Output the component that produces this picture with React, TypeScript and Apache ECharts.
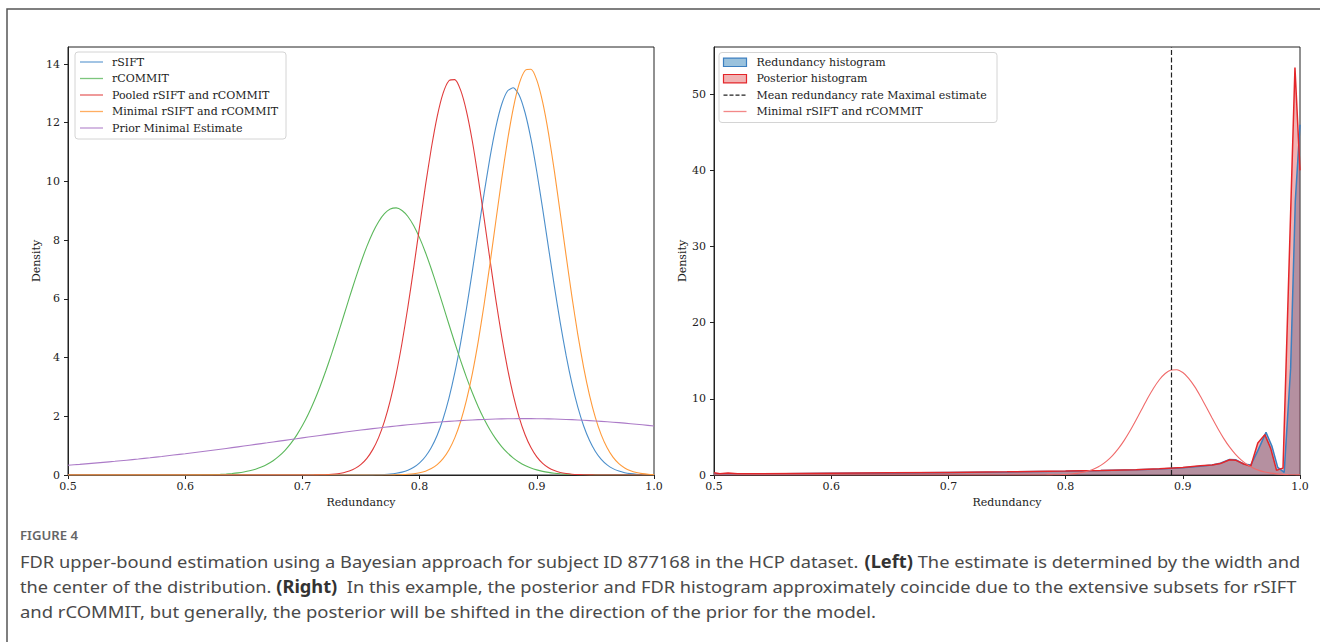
import React, { useEffect, useRef } from 'react';
import * as echarts from 'echarts';

// ---------- LEFT PANEL DATA ----------
const xFine = [
  0.5, 0.55,
  0.600, 0.605, 0.610, 0.615, 0.620, 0.625, 0.630, 0.635, 0.640, 0.645,
  0.650, 0.655, 0.660, 0.665, 0.670, 0.675, 0.680, 0.685, 0.690, 0.695,
  0.700, 0.705, 0.710, 0.715, 0.720, 0.725, 0.730, 0.735, 0.740, 0.745,
  0.750, 0.755, 0.760, 0.765, 0.770, 0.775, 0.780, 0.785, 0.790, 0.795,
  0.800, 0.805, 0.810, 0.815, 0.820, 0.825, 0.830, 0.835, 0.840, 0.845,
  0.850, 0.855, 0.860, 0.865, 0.870, 0.875, 0.880, 0.885, 0.890, 0.895,
  0.900, 0.905, 0.910, 0.915, 0.920, 0.925, 0.930, 0.935, 0.940, 0.945,
  0.950, 0.955, 0.960, 0.965, 0.970, 0.975, 0.980, 0.985, 0.990, 0.995,
  1.000,
];

const rsiftY = [
  0, 0,
  0, 0, 0, 0, 0, 0, 0, 0, 0, 0,
  0, 0, 0, 0, 0, 0, 0, 0, 0, 0,
  0, 0, 0, 0, 0, 0, 0, 0, 0, 0,
  0, 0, 0.005, 0.010, 0.018, 0.032, 0.057, 0.097, 0.162, 0.262,
  0.412, 0.630, 0.937, 1.356, 1.909, 2.612, 3.477, 4.503, 5.671, 6.945,
  8.274, 9.585, 10.80, 11.84, 12.62, 13.08, 13.19, 12.94, 12.34, 11.45,
  10.33, 9.067, 7.739, 6.426, 5.188, 4.075, 3.112, 2.313, 1.671, 1.174,
  0.802, 0.533, 0.345, 0.217, 0.133, 0.079, 0.046, 0.026, 0.014, 0.008,
  0.004,
];

const rcommitY = [
  0, 0,
  0.002, 0.003, 0.004, 0.006, 0.010, 0.015, 0.022, 0.033, 0.049, 0.071,
  0.101, 0.142, 0.198, 0.271, 0.366, 0.488, 0.643, 0.834, 1.068, 1.350,
  1.683, 2.069, 2.512, 3.007, 3.550, 4.136, 4.754, 5.392, 6.032, 6.657,
  7.249, 7.787, 8.254, 8.630, 8.903, 9.061, 9.100, 9.012, 8.807, 8.491,
  8.077, 7.580, 7.017, 6.410, 5.776, 5.135, 4.504, 3.898, 3.327, 2.802,
  2.328, 1.908, 1.543, 1.231, 0.969, 0.753, 0.577, 0.436, 0.325, 0.239,
  0.174, 0.124, 0.088, 0.061, 0.042, 0.029, 0.019, 0.013, 0.008, 0.005,
  0.003, 0.002, 0.001, 0, 0, 0, 0, 0, 0, 0,
  0,
];

const pooledY = [
  0, 0,
  0, 0, 0, 0, 0, 0, 0, 0, 0, 0,
  0, 0, 0, 0, 0, 0, 0, 0, 0, 0,
  0, 0.002, 0.003, 0.007, 0.013, 0.025, 0.045, 0.079, 0.135, 0.225,
  0.363, 0.568, 0.864, 1.274, 1.827, 2.541, 3.430, 4.497, 5.722, 7.066,
  8.472, 9.856, 11.13, 12.21, 13.00, 13.43, 13.47, 13.11, 12.39, 11.37,
  10.12, 8.752, 7.344, 5.982, 4.730, 3.630, 2.705, 1.957, 1.373, 0.936,
  0.619, 0.398, 0.248, 0.150, 0.088, 0.050, 0.028, 0.015, 0.008, 0.004,
  0.002, 0, 0, 0, 0, 0, 0, 0, 0, 0,
  0,
];

const minimalY = [
  0, 0,
  0, 0, 0, 0, 0, 0, 0, 0, 0, 0,
  0, 0, 0, 0, 0, 0, 0, 0, 0, 0,
  0, 0, 0, 0, 0, 0, 0, 0, 0, 0,
  0, 0, 0, 0, 0, 0, 0.006, 0.012, 0.023, 0.042,
  0.075, 0.130, 0.218, 0.354, 0.558, 0.853, 1.266, 1.823, 2.548, 3.454,
  4.544, 5.800, 7.184, 8.634, 10.07, 11.39, 12.51, 13.33, 13.78, 13.82,
  13.45, 12.70, 11.64, 10.35, 8.925, 7.471, 6.068, 4.782, 3.658, 2.713,
  1.954, 1.366, 0.926, 0.609, 0.388, 0.241, 0.145, 0.084, 0.048, 0.026,
  0.014,
];

const priorX = [
  0.50, 0.51, 0.52, 0.53, 0.54, 0.55, 0.56, 0.57, 0.58, 0.59,
  0.60, 0.61, 0.62, 0.63, 0.64, 0.65, 0.66, 0.67, 0.68, 0.69,
  0.70, 0.71, 0.72, 0.73, 0.74, 0.75, 0.76, 0.77, 0.78, 0.79,
  0.80, 0.81, 0.82, 0.83, 0.84, 0.85, 0.86, 0.87, 0.88, 0.89,
  0.90, 0.91, 0.92, 0.93, 0.94, 0.95, 0.96, 0.97, 0.98, 0.99,
  1.00,
];
const priorY = [
  0.331, 0.362, 0.395, 0.429, 0.466, 0.505, 0.545, 0.588, 0.632, 0.679,
  0.726, 0.776, 0.827, 0.879, 0.932, 0.987, 1.042, 1.097, 1.153, 1.209,
  1.265, 1.320, 1.375, 1.428, 1.480, 1.531, 1.579, 1.626, 1.669, 1.710,
  1.748, 1.783, 1.814, 1.842, 1.865, 1.885, 1.900, 1.911, 1.918, 1.920,
  1.918, 1.911, 1.900, 1.885, 1.865, 1.842, 1.814, 1.783, 1.748, 1.710,
  1.669,
];

// ---------- RIGHT PANEL DATA ----------
const redundancyX = [
  0.500, 0.505, 0.515, 0.530, 0.560, 0.600, 0.650, 0.700, 0.750, 0.800,
  0.830, 0.860, 0.880, 0.900, 0.915, 0.925, 0.932, 0.940, 0.945, 0.952,
  0.958, 0.964, 0.971, 0.976, 0.981, 0.9865, 0.992, 0.996, 1.000,
];
const redundancyY = [
  0.15, 0.12, 0.14, 0.15, 0.18, 0.22, 0.27, 0.33, 0.40, 0.50,
  0.58, 0.68, 0.78, 0.95, 1.15, 1.30, 1.55, 2.05, 2.00, 1.45,
  1.30, 3.20, 5.60, 3.80, 1.00, 0.35, 14.0, 36.0, 46.0,
];
const posteriorX = [
  0.500, 0.505, 0.512, 0.520, 0.540, 0.600, 0.650, 0.700, 0.750, 0.800,
  0.830, 0.860, 0.880, 0.900, 0.915, 0.925, 0.932, 0.940, 0.945, 0.952,
  0.958, 0.964, 0.970, 0.975, 0.980, 0.983, 0.9855, 0.9957, 1.000,
];
const posteriorY = [
  0.30, 0.15, 0.25, 0.15, 0.17, 0.23, 0.28, 0.34, 0.42, 0.52,
  0.60, 0.70, 0.82, 1.00, 1.20, 1.30, 1.50, 2.00, 1.95, 1.45,
  1.15, 4.20, 5.30, 3.50, 0.60, 0.80, 0.90, 53.5, 40.0,
];
const meanRedundancy = 0.893;

// ---------- TICKS / LABELS ----------
const leftYTicks = [0, 2, 4, 6, 8, 10, 12, 14];
const rightYTicks = [0, 10, 20, 30, 40, 50];
const leftLegendNames = ['rSIFT', 'rCOMMIT', 'Pooled rSIFT and rCOMMIT', 'Minimal rSIFT and rCOMMIT', 'Prior Minimal Estimate'];
const rightLegendNames = ['Redundancy histogram', 'Posterior histogram', 'Mean redundancy rate Maximal estimate', 'Minimal rSIFT and rCOMMIT'];
const xAxisTitle = 'Redundancy';
const yAxisTitle = 'Density';
const figureLabel = 'FIGURE 4';
const captionLines: [string, boolean][][] = [
  [
    ['FDR upper-bound estimation using a Bayesian approach for subject ID 877168 in the HCP dataset. ', false],
    ['(Left)', true],
    [' The estimate is determined by the width and', false],
  ],
  [
    ['the center of the distribution. ', false],
    ['(Right)', true],
    ['  In this example, the posterior and FDR histogram approximately coincide due to the extensive subsets for rSIFT', false],
  ],
  [['and rCOMMIT, but generally, the posterior will be shifted in the direction of the prior for the model.', false]],
];

// ---------- STYLE ----------
const C = {
  rsift: '#4c8fcb',
  rcommit: '#5cb85c',
  pooled: '#e03c3c',
  minimal: '#ff9a3a',
  prior: '#ac7bc8',
  redEdge: '#e4262a',
  blueEdge: '#3c7fc0',
  redFill: 'rgba(214,39,40,0.5)',
  blueFill: 'rgba(31,119,180,0.58)',
  blueLegend: 'rgba(31,119,180,0.45)',
  redLegend: 'rgba(214,39,40,0.35)',
  pink: '#f06a6a',
  ink: '#222',
  caption: '#4a4a4a',
};
const SERIF = 'DejaVu Serif';
const SANS = 'Noto Sans';

function pairs(xs: number[], ys: number[]) {
  return xs.map((x, i) => [x, ys[i]]);
}

function measure(text: string, font: string) {
  const ctx = document.createElement('canvas').getContext('2d')!;
  ctx.font = font;
  return ctx.measureText(text).width;
}

const L = { left: 68, top: 47, width: 586, height: 428 };
const R = { left: 714, top: 47, width: 586, height: 428 };

function xAxisCfg(gridIndex: number) {
  return {
    type: 'value', gridIndex, min: 0.5, max: 1.0, interval: 0.1,
    axisLine: { show: true, onZero: false, lineStyle: { color: C.ink, width: 1 } },
    axisTick: { show: true, length: 4, lineStyle: { color: C.ink, width: 1 } },
    axisLabel: { fontFamily: SERIF, fontSize: 11, color: C.ink, margin: 6, formatter: (v: number) => v.toFixed(1) },
    splitLine: { show: false },
    name: xAxisTitle, nameLocation: 'middle', nameGap: 22,
    nameTextStyle: { fontFamily: SERIF, fontSize: 11, color: C.ink },
  };
}
function yAxisCfg(gridIndex: number, max: number, interval: number, ticks: number[]) {
  return {
    type: 'value', gridIndex, min: 0, max, interval,
    axisLine: { show: true, onZero: false, lineStyle: { color: C.ink, width: 1 } },
    axisTick: { show: true, length: 4, lineStyle: { color: C.ink, width: 1 }, customValues: ticks },
    axisLabel: {
      fontFamily: SERIF, fontSize: 11, color: C.ink, margin: 8, customValues: ticks,
      formatter: (v: number) => (Math.abs(v / interval - Math.round(v / interval)) < 1e-6 ? String(Math.round(v)) : ''),
    },
    splitLine: { show: false },
    name: yAxisTitle, nameLocation: 'middle', nameGap: 26,
    nameTextStyle: { fontFamily: SERIF, fontSize: 11, color: C.ink },
  };
}

function buildGraphics() {
  const g: any[] = [];
  // outer figure frame
  g.push({ type: 'rect', shape: { x: 7, y: 9, width: 1400, height: 700 }, style: { fill: 'none', stroke: '#555', lineWidth: 1.5 }, silent: true });

  // left legend
  const lColors = [C.rsift, C.rcommit, C.pooled, C.minimal, C.prior];
  g.push({ type: 'rect', shape: { x: 75, y: 52, width: 211, height: 87, r: 3 }, style: { fill: 'rgba(255,255,255,0.8)', stroke: '#d4d4d4', lineWidth: 1 }, z: 100 });
  leftLegendNames.forEach((n, i) => {
    const cy = 62 + i * 16.5;
    g.push({ type: 'line', shape: { x1: 80, y1: cy, x2: 103, y2: cy }, style: { stroke: lColors[i], lineWidth: 1.3, opacity: 0.8 }, z: 101 });
    g.push({ type: 'text', x: 112, y: cy, style: { text: n, fill: C.ink, fontFamily: SERIF, fontSize: 11, verticalAlign: 'middle', align: 'left' }, z: 101 });
  });

  // right legend
  g.push({ type: 'rect', shape: { x: 719, y: 52.5, width: 278, height: 70, r: 3 }, style: { fill: 'rgba(255,255,255,0.8)', stroke: '#d4d4d4', lineWidth: 1 }, z: 100 });
  rightLegendNames.forEach((n, i) => {
    const cy = 62.3 + i * 16.4;
    if (i === 0 || i === 1) {
      g.push({ type: 'rect', shape: { x: 723.5, y: cy - 4.2, width: 23, height: 8.4 }, style: { fill: i === 0 ? C.blueLegend : C.redLegend, stroke: i === 0 ? C.blueEdge : C.redEdge, lineWidth: 1.2 }, z: 101 });
    } else if (i === 2) {
      g.push({ type: 'line', shape: { x1: 723.5, y1: cy, x2: 746.5, y2: cy }, style: { stroke: C.ink, lineWidth: 1.2, lineDash: [4, 2] }, z: 101 });
    } else {
      g.push({ type: 'line', shape: { x1: 723.5, y1: cy, x2: 746.5, y2: cy }, style: { stroke: C.pink, lineWidth: 1.3, opacity: 0.8 }, z: 101 });
    }
    g.push({ type: 'text', x: 756.5, y: cy, style: { text: n, fill: C.ink, fontFamily: SERIF, fontSize: 11, verticalAlign: 'middle', align: 'left' }, z: 101 });
  });

  // caption
  const figFont = `600 12px "${SANS}"`;
  const figW = measure(figureLabel, figFont);
  g.push({ type: 'text', x: 20, y: 536, scaleX: 58 / figW, style: { text: figureLabel, fill: '#666', fontFamily: SANS, fontWeight: 600, fontSize: 12, verticalAlign: 'middle', align: 'left' } });

  const targets = [1301, 1297, 877];
  const ys = [561, 586, 611];
  captionLines.forEach((segs, li) => {
    const widths = segs.map(([t, b]) => measure(t, `${b ? 'bold ' : ''}17px "${SANS}"`));
    const total = widths.reduce((a, b) => a + b, 0);
    const s = (targets[li] - 20) / total;
    let cx = 20;
    segs.forEach(([t, b], si) => {
      g.push({
        type: 'text', x: cx, y: ys[li], scaleX: s,
        style: { text: t, fill: b ? '#333' : C.caption, fontFamily: SANS, fontWeight: b ? 'bold' : 'normal', fontSize: 17, verticalAlign: 'middle', align: 'left' },
      });
      cx += widths[si] * s;
    });
  });
  return g;
}

export default function App() {
  const ref = useRef<HTMLDivElement>(null);
  useEffect(() => {
    if (!ref.current) return;
    const chart = echarts.init(ref.current, null, { renderer: 'svg' });
    const lineBase = { type: 'line', showSymbol: false, symbol: 'none', silent: true };
    const option: any = {
      animation: false,
      backgroundColor: '#fff',
      grid: [
        { ...L, show: true, borderColor: C.ink, borderWidth: 1, backgroundColor: 'transparent', containLabel: false },
        { ...R, show: true, borderColor: C.ink, borderWidth: 1, backgroundColor: 'transparent', containLabel: false },
      ],
      xAxis: [xAxisCfg(0), xAxisCfg(1)],
      yAxis: [yAxisCfg(0, 14.58, 2, leftYTicks), yAxisCfg(1, 56.2, 10, rightYTicks)],
      series: [
        { ...lineBase, name: leftLegendNames[0], xAxisIndex: 0, yAxisIndex: 0, data: pairs(xFine, rsiftY), smooth: 0.2, lineStyle: { color: C.rsift, width: 1.1 } },
        { ...lineBase, name: leftLegendNames[1], xAxisIndex: 0, yAxisIndex: 0, data: pairs(xFine, rcommitY), smooth: 0.2, lineStyle: { color: C.rcommit, width: 1.1 } },
        { ...lineBase, name: leftLegendNames[2], xAxisIndex: 0, yAxisIndex: 0, data: pairs(xFine, pooledY), smooth: 0.2, lineStyle: { color: C.pooled, width: 1.1 } },
        { ...lineBase, name: leftLegendNames[3], xAxisIndex: 0, yAxisIndex: 0, data: pairs(xFine, minimalY), smooth: 0.2, lineStyle: { color: C.minimal, width: 1.1 } },
        { ...lineBase, name: leftLegendNames[4], xAxisIndex: 0, yAxisIndex: 0, data: pairs(priorX, priorY), smooth: 0.2, lineStyle: { color: C.prior, width: 1.1 } },

        { ...lineBase, name: rightLegendNames[0], xAxisIndex: 1, yAxisIndex: 1, data: pairs(redundancyX, redundancyY), smooth: false, lineStyle: { color: C.blueEdge, width: 1.5 }, areaStyle: { color: C.blueFill, origin: 'start' } },
        { ...lineBase, name: rightLegendNames[1], xAxisIndex: 1, yAxisIndex: 1, data: pairs(posteriorX, posteriorY), smooth: false, lineStyle: { color: C.redEdge, width: 1.5 }, areaStyle: { color: C.redFill, origin: 'start' } },
        {
          ...lineBase, name: rightLegendNames[3], xAxisIndex: 1, yAxisIndex: 1, data: pairs(xFine, minimalY), smooth: 0.2, lineStyle: { color: C.pink, width: 1.1 },
          markLine: {
            silent: true, symbol: ['none', 'none'], label: { show: false },
            lineStyle: { color: C.ink, type: [5, 2.5], width: 1.2 },
            data: [{ xAxis: meanRedundancy }],
          },
        },
      ],
      graphic: buildGraphics(),
    };
    chart.setOption(option);
    return () => chart.dispose();
  }, []);
  return <div ref={ref} style={{ position: 'fixed', left: 0, top: 0, width: 1320, height: 642 }} />;
}
